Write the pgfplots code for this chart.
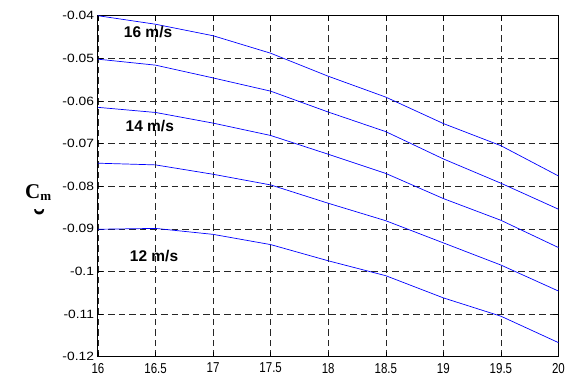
\documentclass[border=0pt]{standalone}
\usepackage{fontspec}
\setmainfont{Liberation Sans}
\newfontfamily\seriffont{Liberation Serif}
\usepackage{pgfplots}
\pgfplotsset{compat=1.18}
\begin{document}
\begin{tikzpicture}
\path[use as bounding box] (0,0) rectangle (571pt,376pt);
\begin{axis}[
  at={(98pt,19.3pt)}, anchor=south west,
  scale only axis, width=460.5pt, height=341pt,
  xmin=16, xmax=20, ymin=-0.12, ymax=-0.04,
  xtick={16,16.5,17,17.5,18,18.5,19,19.5,20},
  xticklabels={16,16.5,17,17.5,18,18.5,19,19.5,20},
  ytick={-0.12,-0.11,-0.1,-0.09,-0.08,-0.07,-0.06,-0.05,-0.04},
  yticklabels={-0.12,-0.11,-0.1,-0.09,-0.08,-0.07,-0.06,-0.05,-0.04},
  grid=major,
  major grid style={black!85, dash pattern=on 6.5pt off 4pt, line width=0.6pt},
  tick align=inside, major tick length=5pt,
  tick style={black, line width=0.6pt},
  axis line style={black, line width=1pt},
  xticklabel style={font=\fontsize{11.5}{11.5}\selectfont, yscale=1.25, yshift=-1.5pt},
  yticklabel style={font=\fontsize{12}{12}\selectfont, xscale=1.15, xshift=0pt},
  clip=false,
]
\addplot[blue, line width=0.7pt] coordinates {(16,-0.0400) (16.5,-0.0420) (17,-0.0447) (17.5,-0.0488) (18,-0.0542) (18.5,-0.0591) (19,-0.0653) (19.5,-0.0705) (20,-0.0776)};
\addplot[blue, line width=0.7pt] coordinates {(16,-0.0502) (16.5,-0.0516) (17,-0.0546) (17.5,-0.0577) (18,-0.0626) (18.5,-0.0672) (19,-0.0736) (19.5,-0.0793) (20,-0.0854)};
\addplot[blue, line width=0.7pt] coordinates {(16,-0.0615) (16.5,-0.0627) (17,-0.0652) (17.5,-0.0681) (18,-0.0725) (18.5,-0.0770) (19,-0.0829) (19.5,-0.0880) (20,-0.0944)};
\addplot[blue, line width=0.7pt] coordinates {(16,-0.0746) (16.5,-0.0750) (17,-0.0772) (17.5,-0.0797) (18,-0.0840) (18.5,-0.0881) (19,-0.0933) (19.5,-0.0985) (20,-0.1046)};
\addplot[blue, line width=0.7pt] coordinates {(16,-0.0901) (16.5,-0.0899) (17,-0.0913) (17.5,-0.0937) (18,-0.0975) (18.5,-0.1010) (19,-0.1062) (19.5,-0.1105) (20,-0.1167)};
\node[font=\bfseries\fontsize{15.5}{15.5}\selectfont] at (axis cs:16.435,-0.0438) {16 m/s};
\node[font=\bfseries\fontsize{15.5}{15.5}\selectfont] at (axis cs:16.45,-0.0658) {14 m/s};
\node[font=\bfseries\fontsize{15.5}{15.5}\selectfont] at (axis cs:16.487,-0.0964) {12 m/s};
\node[font=\seriffont\bfseries\fontsize{21}{21}\selectfont, inner sep=0pt, anchor=base west] at (axis cs:15.365,-0.0830) {C\raisebox{-1.5pt}{\fontsize{13}{13}\selectfont m}};
\node[font=\seriffont\bfseries\fontsize{34}{34}\selectfont, inner sep=0pt, anchor=base] at (axis cs:15.491,-0.0910) {˘};
\end{axis}
\end{tikzpicture}
\end{document}
